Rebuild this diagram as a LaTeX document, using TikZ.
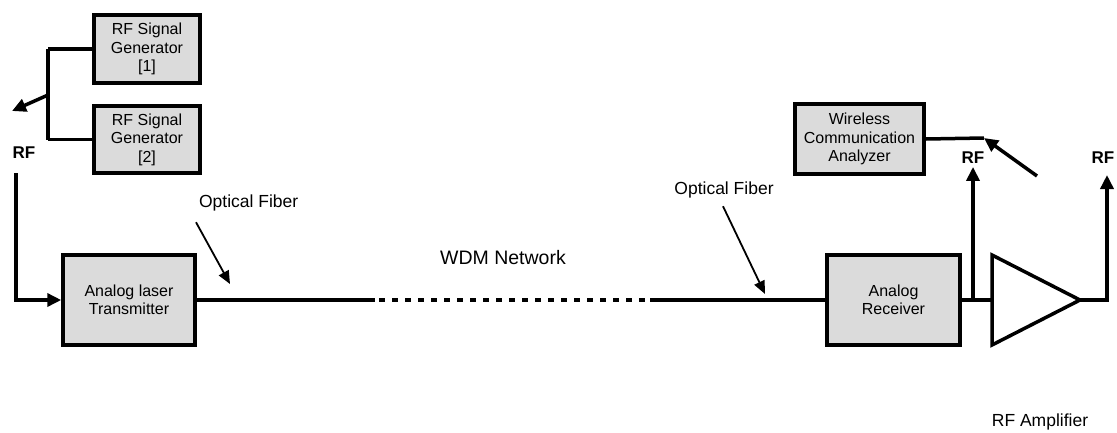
\documentclass[tikz,border=0pt]{standalone}
\usepackage{fontspec}
\setmainfont{Liberation Sans}
\usetikzlibrary{arrows.meta,positioning}

\begin{document}
\begin{tikzpicture}[x=1pt,y=-1pt,->,>={Triangle[length=14pt,width=13pt]},
    line width=3.5pt,
    block/.style={rectangle,draw,fill=black!14,align=center,font=\fontsize{16}{18.5}\selectfont,inner sep=0pt},
    label text/.style={font=\fontsize{17.5}{20}\selectfont},
    rf label/.style={font=\fontsize{17}{20}\selectfont\bfseries},
    fiber arrow/.style={line width=1.8pt,>={Triangle[length=13pt,width=11pt]}}]

\useasboundingbox (0,0) rectangle (1117,432);

% signal generators
\node[block,minimum width=106pt,minimum height=68pt] (gen1) at (147,49) {RF Signal\\Generator\\{[1]}};
\node[block,minimum width=106pt,minimum height=67pt] (gen2) at (147,139.5) {RF Signal\\Generator\\{[2]}};
\coordinate (sw1) at (48,95);
\coordinate (sw1end) at (12,111);
\node[rf label] (rf1) at (24,153) {RF};
\coordinate (intop) at (16,173);

% transmitter and fiber
\node[block,minimum width=132pt,minimum height=90pt] (tx) at (129,300) {Analog laser\\Transmitter};
\node[block,minimum width=133pt,minimum height=90pt] (rx) at (893.5,300) {Analog\\Receiver};
\coordinate (d1) at (375,300);
\coordinate (d2) at (650,300);
\node[label text,font=\fontsize{19.5}{22}\selectfont] (wdm) at (503,258) {WDM Network};

\node[label text,anchor=west] (of1) at (194,203) {Optical Fiber};
\coordinate (of1tip) at (230,284);
\node[label text] (of2) at (724,190) {Optical Fiber};
\coordinate (of2tip) at (765,294);

% receiver side
\node[block,minimum width=129pt,minimum height=70pt] (wca) at (859.5,139) {Wireless\\Communication\\Analyzer};
\coordinate (sw2) at (984,138);
\coordinate (sw2end) at (1037,176);
\coordinate (tap) at (973,300);
\node[rf label] (rf2) at (973,158) {RF};
\coordinate (ampin) at (992,300);
\coordinate (ampout) at (1080,300);
\coordinate (outtop) at (1107,175);
\node[rf label,anchor=east,inner sep=1pt] (rf3) at (1117,158) {RF};
\node[label text] (ampname) at (1040,422) {RF Amplifier};

% amplifier
\draw[-,line join=miter] (992,255) -- (ampout) -- (992,345) -- cycle;

\path[every node/.style={font=\sffamily\small}]
(gen1.west) edge[-] (gen1.west -| sw1)
(gen1.west -| sw1) edge[-] (gen2.west -| sw1)
(gen2.west -| sw1) edge[-] (gen2.west)
(sw1) edge (sw1end)
;

\draw (intop) |- (tx.west);
\draw[-] (tx.east) -- (d1);
\draw[-,dash pattern=on 6pt off 7pt,dash phase=-4pt] (d1) -- (d2);
\draw[-] (d2) -- (rx.west);
\draw[fiber arrow] (of1.south west) ++(2,6) -- (of1tip);
\draw[fiber arrow] (of2.south) ++(-1,3) -- (of2tip);

\draw[-] (rx.east) -- (ampin);
\draw (tap) -- ([yshift=2pt]rf2.south);
\draw[-] (wca.east) -- (sw2);
\draw (sw2end) -- (sw2);
\draw (ampout) -| (outtop);

\end{tikzpicture}
\end{document}
